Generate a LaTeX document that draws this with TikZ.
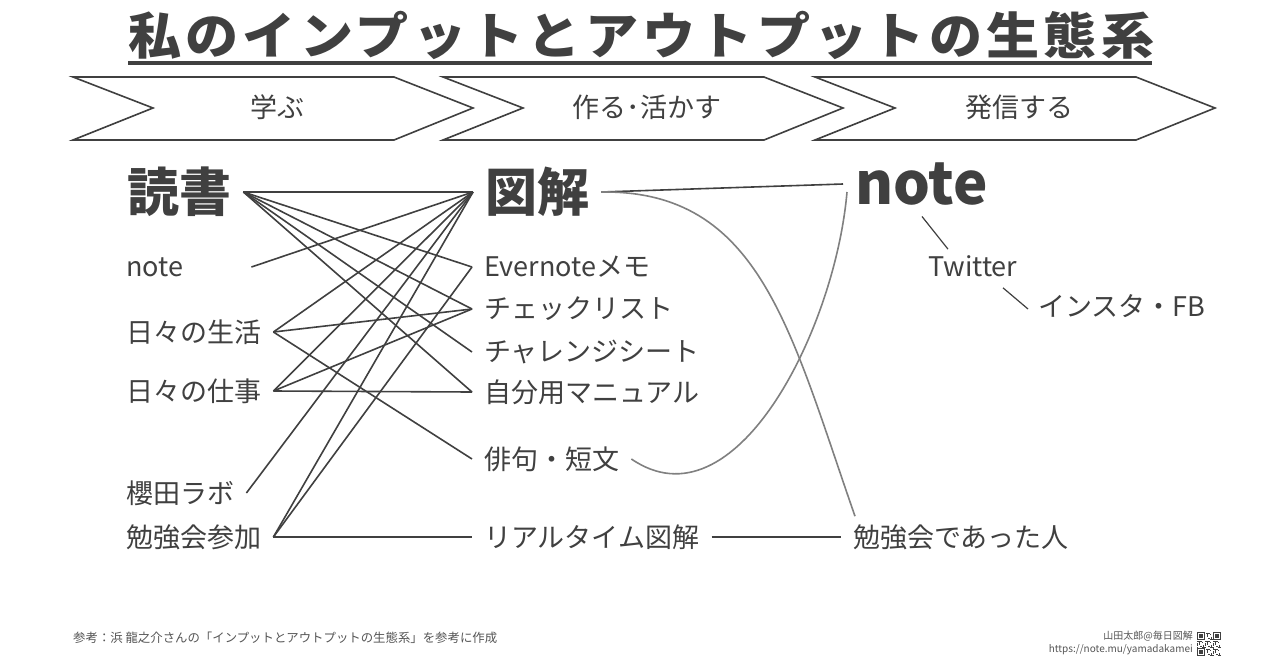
\documentclass[tikz,border=0pt]{standalone}
\usepackage{graphicx}
\usepackage{fontspec}
\setmainfont{Noto Sans CJK JP}
\usetikzlibrary{positioning}
\definecolor{ink}{HTML}{404040}
\definecolor{soft}{HTML}{808080}
\definecolor{foot}{HTML}{555555}

\tikzstyle{every node}=[font=\fontsize{27}{30}\selectfont, text=ink, inner xsep=12pt, inner ysep=2pt, anchor=west]
\tikzstyle{big}=[font=\fontsize{52}{56}\selectfont\bfseries]
\tikzstyle{link}=[draw=ink, line width=1.6pt]
\tikzstyle{flow}=[draw=soft, line width=1.6pt]
\tikzstyle{stage}=[draw=ink, line width=1.6pt, fill=white]
\tikzstyle{small}=[font=\fontsize{10}{12}\selectfont, text=foot, inner sep=0pt]

\begin{document}
\begin{tikzpicture}[x=1pt,y=-1pt]
  \useasboundingbox[fill=white] (0,0) rectangle (1280,670);

  % title
  \node[anchor=center, inner sep=0pt, font=\fontsize{50}{52}\selectfont\bfseries] (title) at (639,35)
    {\resizebox{1022pt}{\height}{\addfontfeatures{LetterSpace=8}私のインプットとアウトプットの生態系\hspace{-4pt}}};
  \draw[ink, line width=3.5pt] (128,63) -- (1152,63);

  % stages
  \foreach \x/\t [count=\i] in {73/学ぶ, 443/作る･活かす, 815/発信する} {
    \draw[stage] (\x,77) -- ++(321,0) -- ++(79,31) -- ++(-79,32) -- ++(-321,0) -- ++(80,-32) -- cycle;
    \node[anchor=center] (stage\i) at (\x+204,107) {\t};
  }

  % input
  \node[big] (dokusho) at (115,192) {読書};
  \node (note1) at (114,267) {note};
  \node (seikatsu) at (114,332) {日々の生活};
  \node (shigoto) at (114,391) {日々の仕事};
  \node (sakurada) at (114,493) {櫻田ラボ};
  \node (benkyo) at (114,537) {勉強会参加};

  % make
  \node[big] (zukai) at (473,192) {図解};
  \node (evernote) at (472,267) {Evernoteメモ};
  \node (check) at (472,309) {チェックリスト};
  \node (challenge) at (472,352) {チャレンジシート};
  \node (manual) at (472,392) {自分用マニュアル};
  \node (haiku) at (472,459) {俳句・短文};
  \node (realtime) at (472,537) {リアルタイム図解};

  % output
  \node[font=\fontsize{58}{60}\selectfont\bfseries] (note2) at (843,184) {note};
  \node (twitter) at (916,266) {Twitter};
  \node (insta) at (1026,306) {インスタ・FB};
  \node (hito) at (841,537) {勉強会であった人};

  % links
  \foreach \a/\b in {dokusho/zukai, dokusho/evernote, dokusho/check, dokusho/challenge, dokusho/manual,
                     seikatsu/zukai, seikatsu/check, seikatsu/haiku,
                     shigoto/zukai, shigoto/check, shigoto/manual,
                     sakurada/zukai,
                     benkyo/zukai, benkyo/evernote, benkyo/realtime}
    \draw[link] (\a.east) -- (\b.west);
  \draw[link] ([xshift=56pt]note1.east) -- (zukai.west);

  \draw[link] (zukai.east) -- (note2.west);
  \draw[flow] (zukai.east) .. controls (760,190) and (790,330) .. ([xshift=14pt,yshift=6pt]hito.north west);
  \draw[flow] (haiku.east) .. controls (735,530) and (835,330) .. ([xshift=4pt,yshift=-8pt]note2.west);
  \draw[link] (realtime.east) -- (hito.west);
  \draw[link, line width=1.2pt] ([xshift=79pt,yshift=-9pt]note2.south west) -- ([xshift=32pt,yshift=4pt]twitter.north west);
  \draw[link, line width=1.2pt] ([xshift=87pt,yshift=-9pt]twitter.south west) -- ([xshift=2pt,yshift=-3pt]insta.west);

  % footer
  \node[small, font=\fontsize{12.4}{14}\selectfont] (source) at (73,638) {参考：浜 龍之介さんの「インプットとアウトプットの生態系」を参考に作成};
  \node[small, anchor=east] (author) at (1193,636) {山田太郎@毎日図解};
  \node[small, anchor=east] (url) at (1193,650) {https://note.mu/yamadakamei};

  % qr
  \foreach \i in {0,...,20}
    \foreach \j in {0,...,20} {
      \pgfmathtruncatemacro\q{mod(\i*\i*3+\j*7+\i*\j*5+\j*\j,7)}
      \ifnum\q<3 \fill[ink] (1197+\i*1.143,632+\j*1.143) rectangle ++(1.143,1.143); \fi
    }
  \foreach \cx/\cy in {0/0, 14/0, 0/14} {
    \fill[white] (1197+\cx*1.143,632+\cy*1.143) rectangle ++(8*1.143,8*1.143);
    \fill[ink] (1197+\cx*1.143,632+\cy*1.143) rectangle ++(7*1.143,7*1.143);
    \fill[white] (1197+\cx*1.143+1.143,632+\cy*1.143+1.143) rectangle ++(5*1.143,5*1.143);
    \fill[ink] (1197+\cx*1.143+2.286,632+\cy*1.143+2.286) rectangle ++(3*1.143,3*1.143);
  }
\end{tikzpicture}
\end{document}
